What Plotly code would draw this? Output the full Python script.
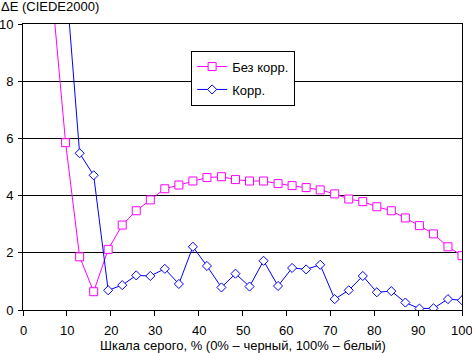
import plotly.graph_objects as go

# x positions: 32 grey-scale steps from 0 to 100 %
gray_pct = [0.0, 3.2, 6.5, 9.7, 12.9, 16.1, 19.4, 22.6, 25.8, 29.0, 32.3, 35.5,
            38.7, 41.9, 45.2, 48.4, 51.6, 54.8, 58.1, 61.3, 64.5, 67.7, 71.0,
            74.2, 77.4, 80.6, 83.9, 87.1, 90.3, 93.5, 96.8, 100.0]

de_no_corr = [14.5, 13.0, 11.3, 5.85, 1.86, 0.64, 2.12, 2.97, 3.47, 3.85, 4.24,
              4.37, 4.51, 4.63, 4.66, 4.56, 4.51, 4.51, 4.42, 4.35, 4.28, 4.20,
              4.06, 3.88, 3.79, 3.61, 3.47, 3.22, 2.95, 2.66, 2.21, 1.90]

de_corr = [14.0, 13.5, 12.8, 11.7, 5.48, 4.71, 0.69, 0.87, 1.21, 1.19, 1.44,
           0.91, 2.21, 1.54, 0.79, 1.27, 0.82, 1.72, 0.84, 1.47, 1.42, 1.58,
           0.38, 0.69, 1.19, 0.62, 0.66, 0.26, 0.05, 0.06, 0.38, 0.34]

x_ticks = [0, 10, 20, 30, 40, 50, 60, 70, 80, 90, 100]
y_ticks = [0, 2, 4, 6, 8, 10]
x_range = [0, 100]

name_no_corr = "Без корр."
name_corr = "Корр."
y_title = "ΔE (CIEDE2000)"
x_title = "Шкала серого, % (0% – черный, 100% – белый)"

FONT = "Arial, Liberation Sans, sans-serif"

fig = go.Figure()
fig.add_trace(go.Scatter(
    x=gray_pct, y=de_no_corr, name=name_no_corr, mode="lines+markers",
    line=dict(color="#FF00FF", width=1),
    marker=dict(symbol="square", size=8, color="white",
                line=dict(color="#FF00FF", width=1)),
    legendgroup="a", cliponaxis=True,
))
fig.add_trace(go.Scatter(
    x=gray_pct, y=de_corr, name=name_corr, mode="lines+markers",
    line=dict(color="#0000FF", width=1),
    marker=dict(symbol="diamond", size=7, color="white",
                line=dict(color="#0000FF", width=1)),
    legendgroup="b", cliponaxis=True,
))

# x tick labels as annotations (paper position derived from the axis range)
annotations = [dict(
    text=str(v), xref="paper", yref="paper",
    x=(v - x_range[0]) / (x_range[1] - x_range[0]), y=0,
    xanchor="center", yanchor="top", yshift=-11,
    showarrow=False, font=dict(family=FONT, size=13, color="black"),
) for v in x_ticks]
annotations.append(dict(
    text=x_title, xref="paper", yref="paper", x=0.5, y=0,
    xanchor="center", yanchor="top", yshift=-26,
    showarrow=False, font=dict(family=FONT, size=13, color="black"),
))
annotations.append(dict(
    text=y_title, xref="paper", yref="paper", x=0, y=1,
    xanchor="left", yanchor="bottom", xshift=-24, yshift=8,
    showarrow=False, font=dict(family=FONT, size=13, color="black"),
))

fig.update_layout(
    width=472, height=353,
    margin=dict(l=23, r=10, t=24, b=43),
    paper_bgcolor="white", plot_bgcolor="white",
    font=dict(family=FONT, size=13, color="black"),
    showlegend=True,
    legend=dict(
        x=0.383, y=0.907, xanchor="left", yanchor="top",
        bordercolor="black", borderwidth=1, bgcolor="white",
        font=dict(family=FONT, size=13, color="black"),
        tracegroupgap=3,
    ),
    xaxis=dict(
        range=x_range, tickmode="array", tickvals=x_ticks,
        showticklabels=False, automargin=False,
        showgrid=False, zeroline=False,
        showline=True, linecolor="black", linewidth=1, mirror=True,
        ticks="outside", ticklen=5, tickcolor="black",
    ),
    yaxis=dict(
        range=[0, 10], tickmode="array", tickvals=y_ticks, automargin=False,
        showgrid=True, gridcolor="black", gridwidth=1,
        zeroline=False,
        showline=True, linecolor="black", linewidth=1, mirror=True,
        ticks="outside", ticklen=4, tickcolor="black",
        ticklabeloverflow="allow", ticklabelstandoff=2,
        tickfont=dict(family=FONT, size=13),
    ),
    annotations=annotations,
)

fig.write_html("out.html")
